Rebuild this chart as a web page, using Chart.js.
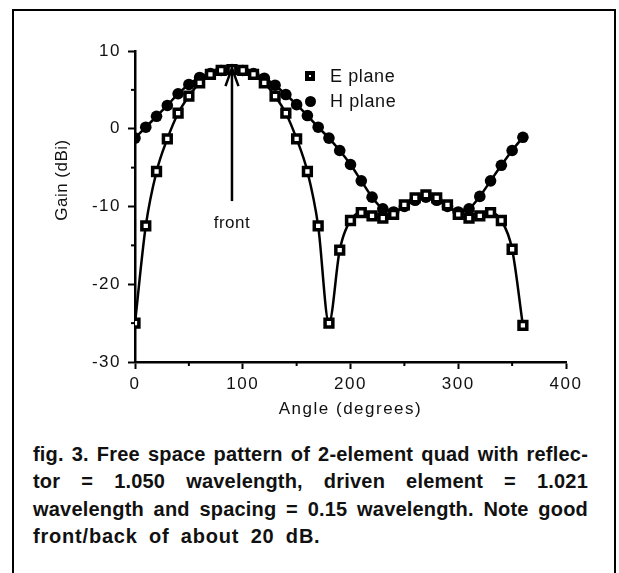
<!DOCTYPE html>
<html>
<head>
<meta charset="utf-8">
<script src="https://cdn.jsdelivr.net/npm/chart.js@4"></script>
<style>
  body { margin: 0; background: #fff; font-family: "Liberation Sans", Arial, sans-serif; }
  #wrap { position: relative; width: 619px; height: 573px; overflow: hidden; }
  #frame { position: absolute; left: 12px; top: 9px; width: 600px; height: 600px; border: 2.5px solid #000; border-top-width: 2px; }
  #chart { position: absolute; left: 0; top: 0; }
  .leg { position: absolute; left: 330px; font-size: 18px; letter-spacing: 0.6px; line-height: 20px; color: #111; }
  .mk { position: absolute; background: #000; }
  .caption { position: absolute; left: 33px; top: 441px; width: 555px; font-weight: bold; font-size: 20px; letter-spacing: 0.2px; line-height: 27.3px; color: #111; }
  .caption div { white-space: nowrap; text-align: justify; text-align-last: justify; }
  .caption div.last { text-align-last: left; word-spacing: 5px; letter-spacing: 0.8px; }
</style>
</head>
<body>
<div id="wrap">
  <div id="frame"></div>
  <canvas id="chart" width="619" height="430"></canvas>
  <div class="mk" style="left:305px;top:71px;width:10px;height:10px;"><div style="position:absolute;left:4px;top:4px;width:2px;height:2px;background:#fff;"></div></div>
  <div class="leg" style="top:66px;">E plane</div>
  <div class="mk" style="left:305px;top:96px;width:11px;height:11px;border-radius:50%;"></div>
  <div class="leg" style="top:91px;">H plane</div>
  <div class="caption">
    <div>fig. 3. Free space pattern of 2-element quad with reflec-</div>
    <div>tor = 1.050 wavelength, driven element = 1.021</div>
    <div>wavelength and spacing = 0.15 wavelength. Note good</div>
    <div class="last">front/back of about 20 dB.</div>
  </div>
</div>
<script>
const angles = [0, 10, 20, 30, 40, 50, 60, 70, 80, 90, 100, 110, 120, 130, 140, 150, 160, 170, 180,
  190, 200, 210, 220, 230, 240, 250, 260, 270, 280, 290, 300, 310, 320, 330, 340, 350, 360];
const ePlane = [-25, -12.5, -5.5, -1.3, 2.0, 4.2, 5.9, 7.0, 7.5, 7.6, 7.5, 7.0, 5.9, 4.2, 2.0, -1.3, -5.5, -12.5, -25,
  -15.6, -11.8, -10.8, -11.2, -11.5, -11.0, -9.8, -8.9, -8.5, -8.9, -9.8, -11.0, -11.5, -11.2, -10.8, -11.8, -15.5, -25.3];
const hPlane = [-1.2, 0.2, 1.6, 3.0, 4.5, 5.7, 6.6, 7.1, 7.5, 7.6, 7.5, 7.1, 6.5, 5.6, 4.4, 3.1, 1.7, 0.2, -1.2,
  -2.8, -4.6, -6.7, -8.8, -10.3, -10.7, -10.0, -9.2, -8.8, -9.2, -10.0, -10.7, -10.3, -8.7, -6.7, -4.7, -2.8, -1.1];
const yMinorTicks = [-25, -15, -5, 5];
const xMinorTicks = [50, 150, 250, 350];
const frontArrow = { x: 90, from: -9.3, to: 7.8, labelY: -12.1, label: 'front' };
const yTitle = { text: 'Gain (dBi)', x: 62, y: 180 };

const font = { family: '"Liberation Sans", Arial, sans-serif', size: 17 };

const extras = {
  id: 'extras',
  beforeDraw(chart) { chart.ctx.letterSpacing = '1.5px'; },
  afterDraw(chart) {
    const { ctx, scales: { x, y } } = chart;
    ctx.save();
    ctx.strokeStyle = '#000';
    ctx.lineWidth = 2;
    yMinorTicks.forEach((v) => {
      const py = y.getPixelForValue(v);
      ctx.beginPath(); ctx.moveTo(x.left - 4, py); ctx.lineTo(x.left, py); ctx.stroke();
    });
    xMinorTicks.forEach((v) => {
      const px = x.getPixelForValue(v);
      ctx.beginPath(); ctx.moveTo(px, y.bottom); ctx.lineTo(px, y.bottom + 4); ctx.stroke();
    });
    // arrow pointing at the front lobe
    const ax = x.getPixelForValue(frontArrow.x);
    const y0 = y.getPixelForValue(frontArrow.from);
    const y1 = y.getPixelForValue(frontArrow.to);
    ctx.lineWidth = 2.5;
    ctx.beginPath(); ctx.moveTo(ax, y0); ctx.lineTo(ax, y1); ctx.stroke();
    ctx.beginPath();
    ctx.moveTo(ax - 6.5, y1 + 18); ctx.lineTo(ax, y1); ctx.lineTo(ax + 6.5, y1 + 18);
    ctx.stroke();
    ctx.fillStyle = '#111';
    ctx.letterSpacing = '0.5px';
    ctx.font = '17px "Liberation Sans", Arial, sans-serif';
    ctx.textAlign = 'center';
    ctx.textBaseline = 'middle';
    ctx.fillText(frontArrow.label, ax, y.getPixelForValue(frontArrow.labelY));
    // y axis title, sits above the axis middle in the original
    ctx.translate(yTitle.x, yTitle.y);
    ctx.rotate(-Math.PI / 2);
    ctx.fillText(yTitle.text, 0, 0);
    ctx.restore();
  },
};

new Chart(document.getElementById('chart'), {
  type: 'line',
  data: {
    datasets: [
      {
        label: 'E plane',
        data: angles.map((a, i) => ({ x: a, y: ePlane[i] })),
        borderColor: '#000', borderWidth: 2.5,
        pointStyle: 'rect', pointRadius: 5.5, pointBorderWidth: 3.5,
        pointBackgroundColor: '#fff', pointBorderColor: '#000',
        cubicInterpolationMode: 'monotone',
      },
      {
        label: 'H plane',
        data: angles.map((a, i) => ({ x: a, y: hPlane[i] })),
        borderColor: '#000', borderWidth: 2.5,
        pointStyle: 'circle', pointRadius: 5.8, pointBorderWidth: 0,
        pointBackgroundColor: '#000',
        cubicInterpolationMode: 'monotone',
      },
    ],
  },
  options: {
    responsive: false,
    animation: false,
    layout: { padding: { left: 0, top: 51, right: 53, bottom: 0 } },
    plugins: { legend: { display: false }, tooltip: { enabled: false } },
    scales: {
      x: {
        type: 'linear', min: 0, max: 400,
        ticks: { stepSize: 100, color: '#111', font, padding: 5 },
        grid: { drawOnChartArea: false, drawTicks: true, tickLength: 7, tickWidth: 2, tickColor: '#000' },
        border: { display: true, color: '#000', width: 2.5 },
        title: { display: true, text: 'Angle (degrees)', color: '#111', font, padding: { top: 0, bottom: 10 } },
        afterFit(scale) { scale.height = 68; },
      },
      y: {
        min: -30, max: 10,
        ticks: { stepSize: 10, color: '#111', font, padding: 7 },
        grid: { drawOnChartArea: false, drawTicks: true, tickLength: 7, tickWidth: 2, tickColor: '#000' },
        border: { display: true, color: '#000', width: 2.5 },
        title: { display: false },
        afterFit(scale) { scale.width = 135; },
      },
    },
  },
  plugins: [extras],
});
</script>
</body>
</html>
